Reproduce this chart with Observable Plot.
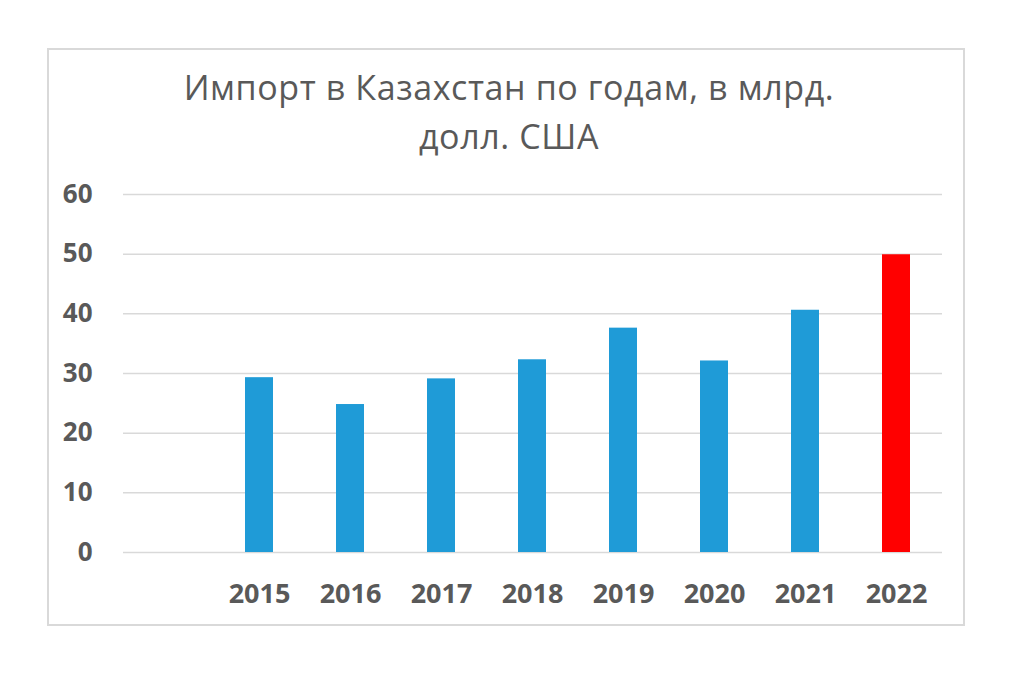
<!DOCTYPE html>
<html>
<head>
<meta charset="utf-8">
<script src="https://cdn.jsdelivr.net/npm/d3@7"></script>
<script src="https://cdn.jsdelivr.net/npm/@observablehq/plot@0.6"></script>
<style>
  html, body { margin: 0; padding: 0; background: #fff; }
  #wrap { position: relative; width: 1012px; height: 673px; overflow: hidden; }
  #frame { position: absolute; left: 47px; top: 48px; width: 914px; height: 574px; border: 2px solid #d9d9d9; }
  #title { position: absolute; left: 0; width: 1018px; top: 63px; text-align: center;
           font-family: "Open Sans", sans-serif; font-size: 34px; letter-spacing: 0.6px; line-height: 49px; color: #595959; }
  #chart { position: absolute; left: 0; top: 0; }
</style>
</head>
<body>
<div id="wrap">
  <div id="frame"></div>
  <div id="title">Импорт в Казахстан по годам, в млрд.<br>долл. США</div>
  <div id="chart"></div>
</div>
<script>
const years = ["2015", "2016", "2017", "2018", "2019", "2020", "2021", "2022"];
const imports = [29.3, 24.8, 29.1, 32.3, 37.6, 32.1, 40.6, 49.9];
const colors = ["#1f9bd7", "#1f9bd7", "#1f9bd7", "#1f9bd7", "#1f9bd7", "#1f9bd7", "#1f9bd7", "#ff0000"];
const yTicks = [0, 10, 20, 30, 40, 50, 60];
const blank = " ";

const data = years.map((y, i) => ({year: y, value: imports[i], color: colors[i]}));

const plot = Plot.plot({
  width: 1012,
  height: 673,
  marginLeft: 123,
  marginRight: 70,
  marginTop: 194,
  marginBottom: 121,
  style: {fontFamily: "'Open Sans', sans-serif", fontSize: "27px", fontWeight: "bold", color: "#595959", background: "transparent", overflow: "visible"},
  x: {domain: [blank, ...years], paddingInner: 0.69, paddingOuter: 0.345, align: 0.5, label: null, tickSize: 0, tickPadding: 31},
  y: {domain: [0, 60], ticks: yTicks, label: null, tickSize: 0, tickPadding: 31},
  marks: [
    Plot.gridY(yTicks, {stroke: "#d9d9d9", strokeOpacity: 1, strokeWidth: 1.5}),
    Plot.barY(data, {x: "year", y: "value", fill: d => d.color}),
    Plot.axisX({tickSize: 0, tickPadding: 31, fill: "#595959"}),
    Plot.axisY({ticks: yTicks, tickSize: 0, tickPadding: 31, fill: "#595959", fontSize: 26})
  ]
});
document.getElementById("chart").appendChild(plot);
</script>
</body>
</html>
